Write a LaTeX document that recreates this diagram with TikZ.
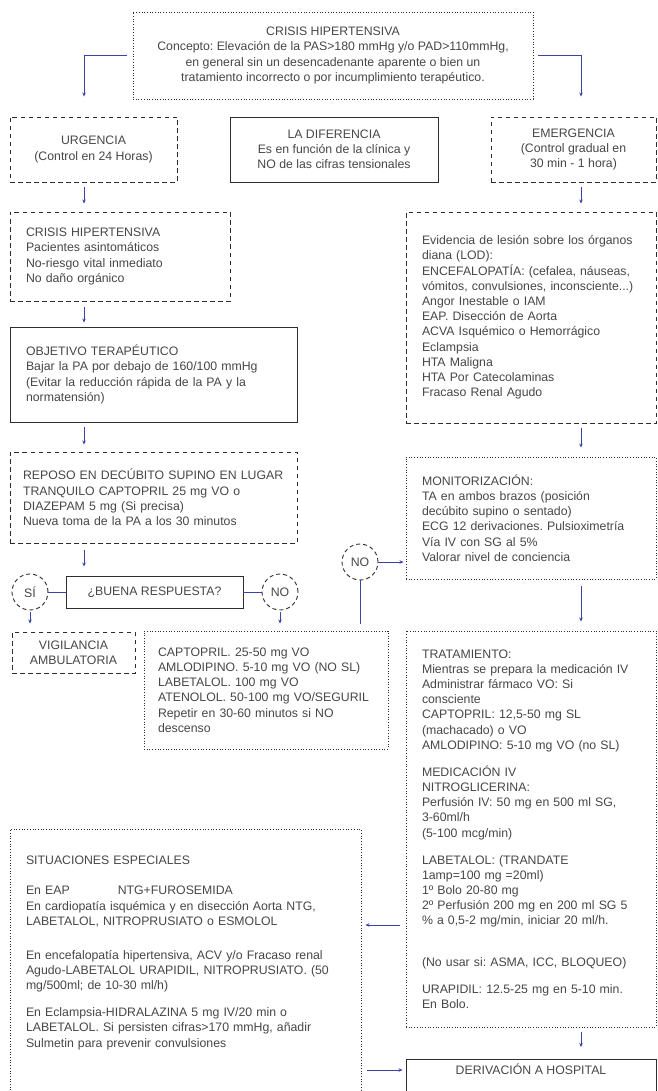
\documentclass[tikz,border=0pt]{standalone}
\usepackage{fontspec}
\setmainfont{Liberation Sans}
\usetikzlibrary{arrows.meta}
\frenchspacing

\definecolor{txtgray}{RGB}{70,70,70}
\definecolor{boxgray}{RGB}{45,45,45}
\definecolor{flowblue}{RGB}{58,66,165}

\tikzset{
  every node/.style={font=\fontsize{12.3}{15.2}\selectfont, text=txtgray},
  dashbox/.style={draw=boxgray, line width=0.9pt, dash pattern=on 4.5pt off 3.5pt},
  dotbox/.style={draw=boxgray, line width=0.9pt, dash pattern=on 1pt off 1.7pt},
  solidbox/.style={draw=boxgray, line width=0.9pt},
  circ/.style={circle, draw=boxgray, line width=0.9pt, dash pattern=on 4pt off 3pt,
    minimum size=36pt, inner sep=0pt},
  conn/.style={draw=flowblue, line width=0.8pt, ->, shorten <=5pt, shorten >=8pt},
  link/.style={draw=flowblue, line width=0.8pt},
}

\begin{document}
\begin{tikzpicture}[x=1pt, y=-1pt, >={Stealth[length=4pt,width=3.5pt]}]

  \useasboundingbox (0,0) rectangle (657,1091);
  \coordinate (lcol) at (84,0);   % left column of arrows
  \coordinate (rcol) at (581,0);  % right column of arrows
  \coordinate (trow) at (0,925);
  \coordinate (drow) at (0,1070);

  % top
  \node[dotbox, minimum width=400pt, minimum height=87pt, align=center] (crisis) at (333,55.5)
    {CRISIS HIPERTENSIVA\\
     Concepto: Elevación de la PAS>180 mmHg y/o PAD>110mmHg,\\
     en general sin un desencadenante aparente o bien un\\
     tratamiento incorrecto o por incumplimiento terapéutico.};

  \node[dashbox, minimum width=167pt, minimum height=65pt, align=center] (urg) at (93.5,149.5)
    {URGENCIA\\(Control en 24 Horas)};
  \node[solidbox, minimum width=208pt, minimum height=65pt, align=center] (dif) at (334,149.5)
    {LA DIFERENCIA\\Es en función de la clínica y\\NO de las cifras tensionales};
  \node[dashbox, minimum width=165pt, minimum height=65pt, align=center] (emer) at (573.5,149.5)
    {EMERGENCIA\\(Control gradual en\\30 min - 1 hora)};

  % left branch
  \node[dashbox, minimum width=220pt, minimum height=89pt, inner xsep=16pt, text width=188pt,
    align=left] (crisisL) at (120,256.5)
    {CRISIS HIPERTENSIVA\\
     Pacientes asintomáticos\\
     No-riesgo vital inmediato\\
     No daño orgánico};
  \node[solidbox, minimum width=287pt, minimum height=95pt, inner xsep=16pt, text width=255pt,
    align=left] (obj) at (153.5,374.5)
    {OBJETIVO TERAPÉUTICO\\
     Bajar la PA por debajo de 160/100 mmHg\\
     (Evitar la reducción rápida de la PA y la\\
     normatensión)};
  \node[dashbox, minimum width=287pt, minimum height=91pt, inner xsep=13pt, text width=261pt,
    align=left] (reposo) at (153.5,497.5)
    {REPOSO EN DECÚBITO SUPINO EN LUGAR\\
     TRANQUILO CAPTOPRIL 25 mg VO o\\
     DIAZEPAM 5 mg (Si precisa)\\
     Nueva toma de la PA a los 30 minutos};
  \node[solidbox, minimum width=177pt, minimum height=32pt] (buena) at (154.5,592)
    {¿BUENA RESPUESTA?};
  \node[circ] (si) at (30,592) {SÍ};
  \node[circ] (noA) at (280,592) {NO};
  \node[circ] (noB) at (360,562) {NO};
  \node[dashbox, minimum width=123pt, minimum height=41pt, align=center] (vig) at (73.5,652.5)
    {VIGILANCIA\\AMBULATORIA};
  \node[dotbox, minimum width=244pt, minimum height=118pt, inner xsep=14pt, text width=216pt,
    align=left] (capt) at (266,690)
    {CAPTOPRIL. 25-50 mg VO\\
     AMLODIPINO. 5-10 mg VO (NO SL)\\
     LABETALOL. 100 mg VO\\
     ATENOLOL. 50-100 mg VO/SEGURIL\\
     Repetir en 30-60 minutos si NO\\
     descenso};

  % right branch
  \node[dashbox, minimum width=250pt, minimum height=211pt, inner xsep=16pt, text width=218pt,
    align=left] (evid) at (531,317.5)
    {Evidencia de lesión sobre los órganos\\
     diana (LOD):\\
     ENCEFALOPATÍA: (cefalea, náuseas,\\
     vómitos, convulsiones, inconsciente...)\\
     Angor Inestable o IAM\\
     EAP. Disección de Aorta\\
     ACVA Isquémico o Hemorrágico\\
     Eclampsia\\
     HTA Maligna\\
     HTA Por Catecolaminas\\
     Fracaso Renal Agudo};
  \node[dotbox, minimum width=250pt, minimum height=122pt, inner xsep=16pt, text width=218pt,
    align=left] (monit) at (531,518)
    {MONITORIZACIÓN:\\
     TA en ambos brazos (posición\\
     decúbito supino o sentado)\\
     ECG 12 derivaciones. Pulsioximetría\\
     Vía IV con SG al 5\%\\
     Valorar nivel de conciencia};
  \node[dotbox, minimum width=250pt, minimum height=396pt, inner xsep=16pt, text width=218pt,
    align=left] (trat) at (531,829)
    {TRATAMIENTO:\\
     Mientras se prepara la medicación IV\\
     Administrar fármaco VO: Si\\
     consciente\\
     CAPTOPRIL: 12,5-50 mg SL\\
     (machacado) o VO\\
     AMLODIPINO: 5-10 mg VO (no SL)\\[11.8pt]
     MEDICACIÓN IV\\
     NITROGLICERINA:\\
     Perfusión IV: 50 mg en 500 ml SG,\\
     3-60ml/h\\
     (5-100 mcg/min)\\[11.8pt]
     LABETALOL: (TRANDATE\\
     1amp=100 mg =20ml)\\
     1º Bolo 20-80 mg\\
     2º Perfusión 200 mg en 200 ml SG 5\\
     \% a 0,5-2 mg/min, iniciar 20 ml/h.\\[26pt]
     (No usar si: ASMA, ICC, BLOQUEO)\\[11.8pt]
     URAPIDIL: 12.5-25 mg en 5-10 min.\\
     En Bolo.};

  % bottom
  \node[dotbox, anchor=north, minimum width=351pt, inner xsep=16pt, text width=319pt,
    inner ysep=25.4pt, text height=10pt, text depth=230pt, align=left] (sit) at (185.5,829)
    {SITUACIONES ESPECIALES\\[14.8pt]
     En EAP\hspace{48pt}NTG+FUROSEMIDA\\
     En cardiopatía isquémica y en disección Aorta NTG,\\
     LABETALOL, NITROPRUSIATO o ESMOLOL\\[18.8pt]
     En encefalopatía hipertensiva, ACV y/o Fracaso renal\\
     Agudo-LABETALOL URAPIDIL, NITROPRUSIATO. (50\\
     mg/500ml; de 10-30 ml/h)\\[11.8pt]
     En Eclampsia-HIDRALAZINA 5 mg IV/20 min o\\
     LABETALOL. Si persisten cifras>170 mmHg, añadir\\
     Sulmetin para prevenir convulsiones};
  \node[solidbox, anchor=north, minimum width=250pt, inner ysep=5.4pt, text height=10pt,
    text depth=40pt] (deriv) at (531,1059) {DERIVACIÓN A HOSPITAL};

  % connectors
  \draw[conn, shorten <=6pt, shorten >=20pt] (crisis.west) -| (urg.north -| lcol);
  \draw[conn, shorten <=5pt, shorten >=20pt] (crisis.east) -| (emer.north -| rcol);
  \draw[conn] (urg.south -| lcol) -- (crisisL.north -| lcol);
  \draw[conn, shorten <=6pt, shorten >=4pt] (crisisL.south -| lcol) -- (obj.north -| lcol);
  \draw[conn, shorten >=7pt] (obj.south -| lcol) -- (reposo.north -| lcol);
  \draw[conn, shorten <=7pt, shorten >=9pt] (reposo.south -| lcol) -- (buena.north -| lcol);
  \draw[link] (buena.west) -- (si.east);
  \draw[link] (buena.east) -- (noA.west);
  \draw[conn, shorten <=2pt] (si.south) -- (vig.north -| si);
  \draw[conn, shorten <=2pt, shorten >=7pt] (noA.south) -- (capt.north -| noA);
  \draw[link, shorten <=7pt] (capt.north -| noB) -- (noB.south);
  \draw[conn, shorten <=0pt, shorten >=2pt] (noB.east) -- (monit.west |- noB);
  \draw[conn] (emer.south -| rcol) -- (evid.north -| rcol);
  \draw[conn, shorten >=9pt] (evid.south -| rcol) -- (monit.north -| rcol);
  \draw[conn, shorten <=7pt, shorten >=9pt] (monit.south -| rcol) -- (trat.north -| rcol);
  \draw[conn, shorten >=12pt] (trat.south -| rcol) -- (deriv.north -| rcol);
  \draw[conn, shorten <=6pt, shorten >=4pt] (trat.west |- trow) -- (sit.east |- trow);
  \draw[conn, shorten <=6pt, shorten >=3pt] (sit.east |- drow) -- (deriv.west |- drow);

\end{tikzpicture}
\end{document}
